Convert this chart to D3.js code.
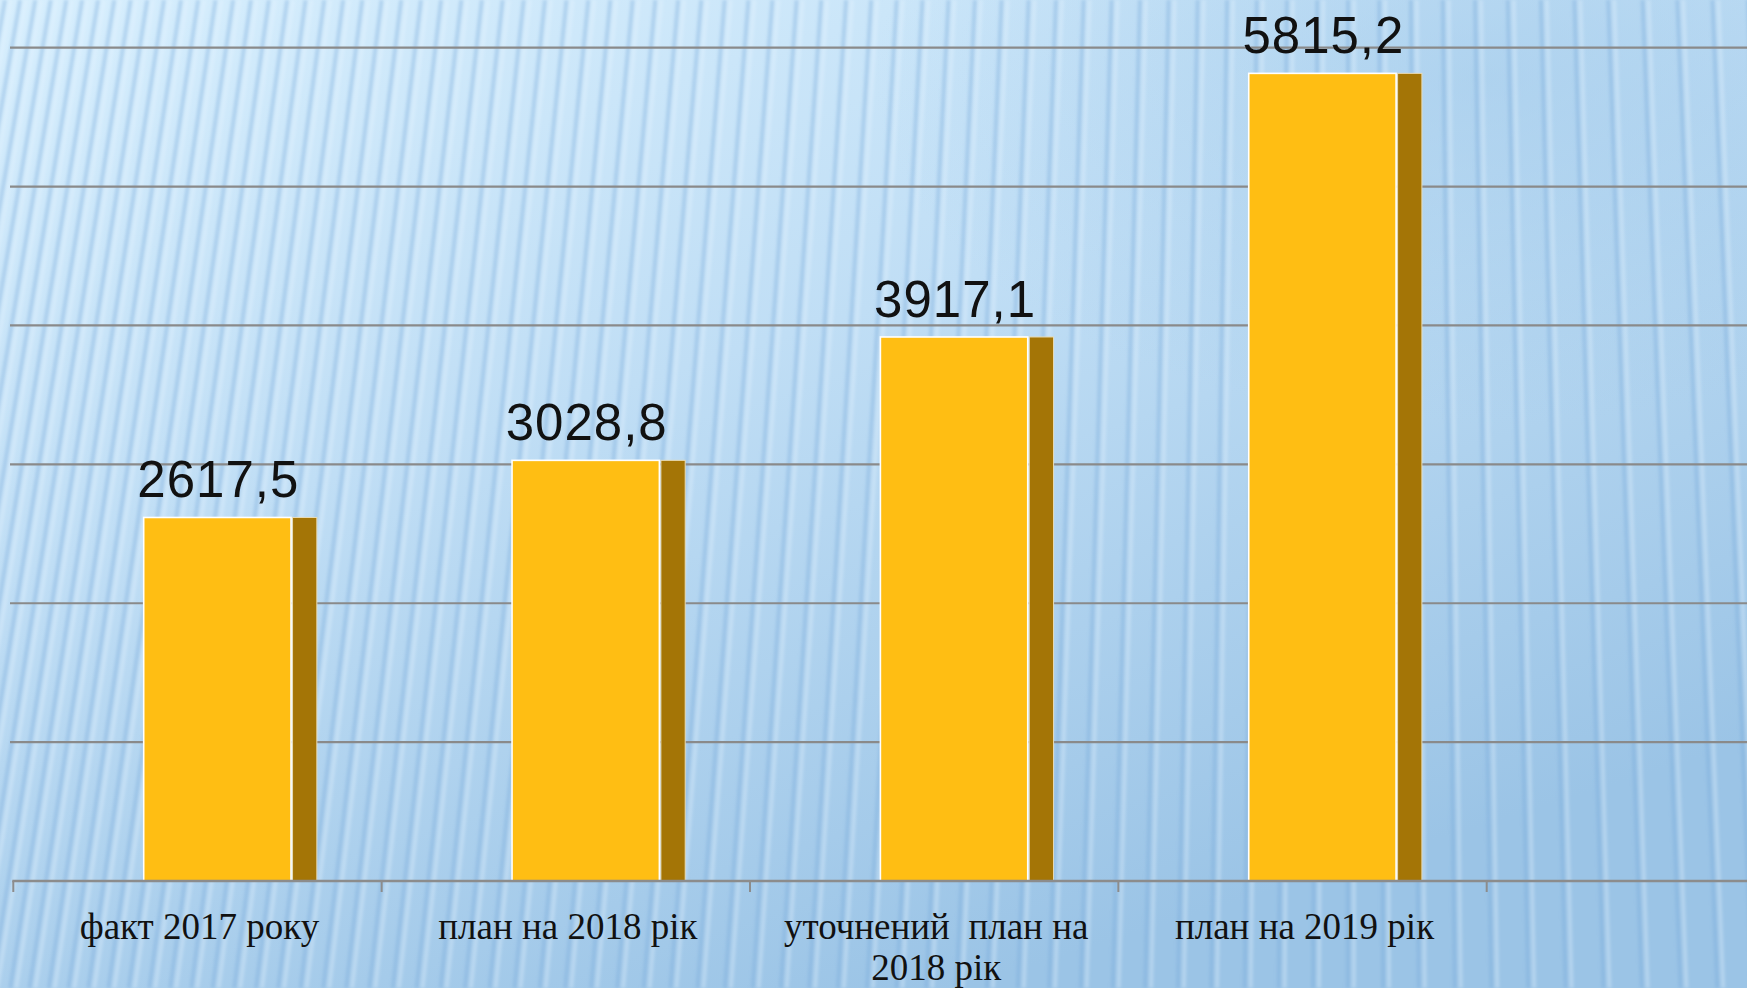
<!DOCTYPE html>
<html>
<head>
<meta charset="utf-8">
<script src="https://cdn.jsdelivr.net/npm/d3@7"></script>
<style>
    html, body {
        margin: 0;
        padding: 0;
        overflow: hidden;
    }
</style>
</head>
<body>
<script>
// 类别（横轴）
const categories = ['факт 2017 року', 'план на 2018 рік', 'уточнений  план на\n2018 рік', 'план на 2019 рік'];
// 柱形图的数据
const values = [2617.5, 3028.8, 3917.1, 5815.2];
// 纵轴网格刻度
const yTicks = [1000, 2000, 3000, 4000, 5000, 6000];

// svg区域大小
const width = 1747;
const height = 988;

// 逗号作小数点
const fmt = d3.formatLocale({decimal: ',', thousands: '', grouping: [3], currency: ['', '']}).format('.1f');

const x = d3.scaleBand()
    .domain(categories)
    .range([13.3, 1486.7])
    .padding(0);

const y = d3.scaleLinear()
    .domain([0, 6000])
    .range([881, 47.7]);

const svg = d3.select('body')
    .append('svg')
    .attr('width', width)
    .attr('height', height);

drawBackground();
drawGrid();
drawBars();
drawAxis();

/**
 * 背景：渐变 + 条纹
 */
function drawBackground() {
    const defs = svg.append('defs');
    const grad = defs.append('linearGradient')
        .attr('id', 'bg')
        .attr('x1', 0).attr('y1', 0)
        .attr('x2', 0.55).attr('y2', 1);
    grad.append('stop').attr('offset', 0).attr('stop-color', '#d6eefd');
    grad.append('stop').attr('offset', 0.45).attr('stop-color', '#c0def5');
    grad.append('stop').attr('offset', 1).attr('stop-color', '#9bc4e6');

    const blob = defs.append('radialGradient')
        .attr('id', 'blob')
        .attr('cx', 0.85).attr('cy', 0.08).attr('r', 0.35);
    blob.append('stop').attr('offset', 0).attr('stop-color', '#9fc8e9').attr('stop-opacity', 0.55);
    blob.append('stop').attr('offset', 1).attr('stop-color', '#9fc8e9').attr('stop-opacity', 0);

    defs.append('filter')
        .attr('id', 'soft')
        .append('feGaussianBlur')
        .attr('stdDeviation', 1.6);

    svg.append('rect')
        .attr('width', width)
        .attr('height', height)
        .attr('fill', 'url(#bg)');
    svg.append('rect')
        .attr('width', width)
        .attr('height', height)
        .attr('fill', 'url(#blob)');

    // 扇形条纹
    const stripes = [];
    let t = -220;
    while (t < width + 80) {
        const shift = Math.max(-40, 175 * (1 - t / 1350));
        stripes.push({t: t, b: t - shift});
        t += 15 + Math.max(0, t) * 0.012;
    }
    const g = svg.append('g').attr('filter', 'url(#soft)');
    g.selectAll('line.dark')
        .data(stripes)
        .enter()
        .append('line')
        .attr('x1', d => d.t)
        .attr('y1', 0)
        .attr('x2', d => d.b)
        .attr('y2', height)
        .attr('stroke', '#78acd9')
        .attr('stroke-opacity', 0.38)
        .attr('stroke-width', 4);
    g.selectAll('line.light')
        .data(stripes)
        .enter()
        .append('line')
        .attr('x1', d => d.t + 6)
        .attr('y1', 0)
        .attr('x2', d => d.b + 6)
        .attr('y2', height)
        .attr('stroke', '#eaf6ff')
        .attr('stroke-opacity', 0.32)
        .attr('stroke-width', 4);
}

/**
 * 网格线
 */
function drawGrid() {
    svg.append('g')
        .selectAll('line')
        .data(yTicks)
        .enter()
        .append('line')
        .attr('x1', 10)
        .attr('x2', width)
        .attr('y1', d => y(d))
        .attr('y2', d => y(d))
        .attr('stroke', '#8a8a8a')
        .attr('stroke-width', 2.2);
}

/**
 * 画柱子和数值
 */
function drawBars() {
    const bw = x.bandwidth();
    const frontX = c => x(c) + bw * 0.354;
    const frontW = bw * 0.4;
    const sideW = bw * 0.066;

    const g = svg.append('g');
    const bars = g.selectAll('g.bar')
        .data(categories)
        .enter()
        .append('g');

    bars.append('rect')
        .attr('x', c => frontX(c) + frontW + 1.5)
        .attr('y', (c, i) => y(values[i]))
        .attr('width', sideW)
        .attr('height', (c, i) => y(0) - y(values[i]))
        .attr('fill', '#a47506')
        .attr('stroke', '#e9dcb6')
        .attr('stroke-width', 1);

    bars.append('rect')
        .attr('x', c => frontX(c))
        .attr('y', (c, i) => y(values[i]))
        .attr('width', frontW)
        .attr('height', (c, i) => y(0) - y(values[i]))
        .attr('fill', '#ffbe13')
        .attr('stroke', '#ffffff')
        .attr('stroke-width', 1.6);

    bars.append('text')
        .attr('x', c => frontX(c) + frontW / 2 + 1)
        .attr('y', (c, i) => y(values[i]) - 20)
        .attr('text-anchor', 'middle')
        .attr('font-family', '"Liberation Sans", Arial, sans-serif')
        .attr('font-size', '51px')
        .attr('letter-spacing', '1px')
        .attr('fill', '#111')
        .text((c, i) => fmt(values[i]));
}

/**
 * 横轴
 */
function drawAxis() {
    const g = svg.append('g');
    const bounds = categories.map(c => x(c)).concat([x.range()[1]]);

    g.append('line')
        .attr('x1', x.range()[0] - 1)
        .attr('x2', width)
        .attr('y1', y(0))
        .attr('y2', y(0))
        .attr('stroke', '#8c8c8c')
        .attr('stroke-width', 2.6);

    g.selectAll('line.tick')
        .data(bounds)
        .enter()
        .append('line')
        .attr('x1', d => d)
        .attr('x2', d => d)
        .attr('y1', y(0))
        .attr('y2', y(0) + 11)
        .attr('stroke', '#8c8c8c')
        .attr('stroke-width', 2);

    const labels = g.selectAll('text')
        .data(categories)
        .enter()
        .append('text')
        .attr('text-anchor', 'middle')
        .attr('font-family', '"Liberation Serif", "Times New Roman", serif')
        .attr('font-size', '37px')
        .attr('fill', '#111')
        .style('white-space', 'pre');

    labels.selectAll('tspan')
        .data(c => c.split('\n').map(s => ({c: c, s: s})))
        .enter()
        .append('tspan')
        .attr('x', d => x(d.c) + x.bandwidth() / 2 + 2)
        .attr('y', (d, i) => 939 + i * 41)
        .text(d => d.s);
}
</script>
</body>
</html>
